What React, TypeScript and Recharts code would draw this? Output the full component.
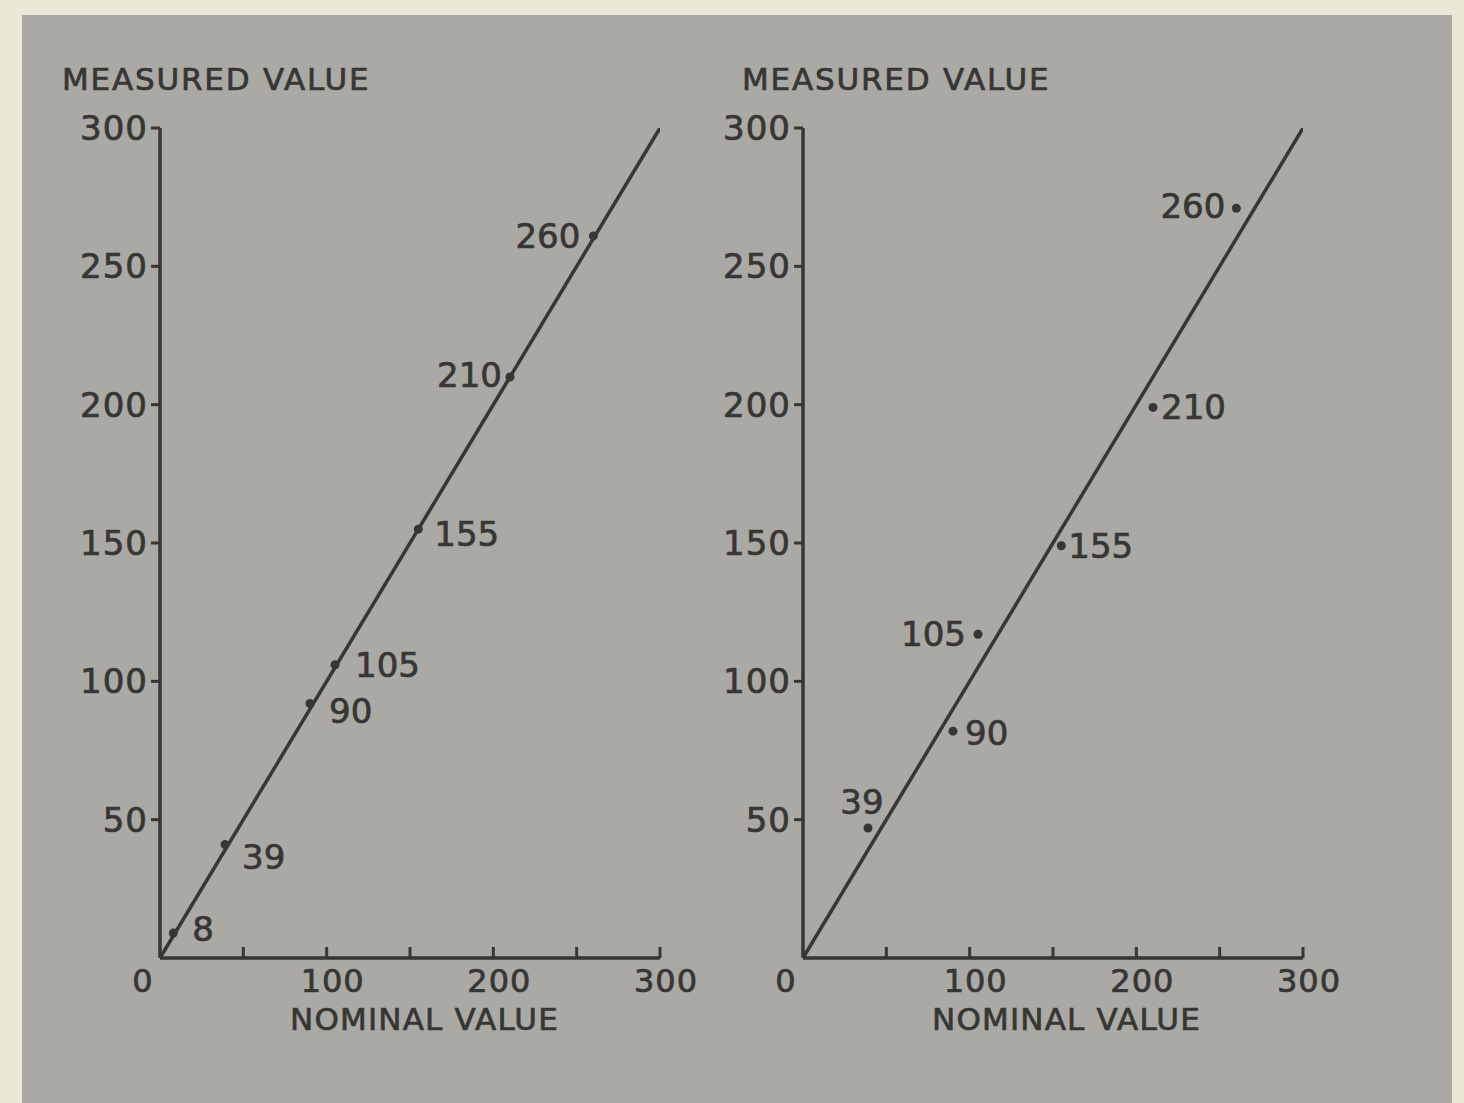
import React from 'react';
import { ScatterChart, Scatter, XAxis, YAxis, LabelList } from 'recharts';

// nominal values marked on both plots
const nominal = [8, 39, 90, 105, 155, 210, 260];
const measuredLeft = [9, 41, 92, 106, 155, 210, 261];
// right plot: six resistors, off the line
const nominalRight = [39, 90, 105, 155, 210, 260];
const measuredRight = [47, 82, 117, 149, 199, 271];

const idealX = [0, 300];
const xTicks = [0, 50, 100, 150, 200, 250, 300];
const yTicks = [50, 100, 150, 200, 250, 300];

const BG = '#aaa9a3';
const PAPER = '#ece8d7';
const INK = '#363634';
const FONT = '"DejaVu Sans", sans-serif';
const NUM_SIZE = 34;

// label offsets relative to each dot (dx, dy, anchor)
const leftLabelPos: [number, number, string][] = [
  [19, -4, 'start'],
  [17, 12, 'start'],
  [19, 8, 'start'],
  [20, 0, 'start'],
  [16, 5, 'start'],
  [-8, -2, 'end'],
  [-13, 0, 'end'],
];
const rightLabelPos: [number, number, string][] = [
  [-6, -26, 'middle'],
  [12, 2, 'start'],
  [-12, 0, 'end'],
  [7, 0, 'start'],
  [8, 0, 'start'],
  [-11, -2, 'end'],
];

const W = 720;
const H = 1103;
const margin = { top: 128, right: 60, left: 100, bottom: 85 };

const textInk = { fill: INK, stroke: INK, strokeWidth: 0.7 };

const XTick = (props: any) => {
  const { x, y, payload } = props;
  const v = payload.value;
  const showLabel = v % 100 === 0;
  return (
    <g>
      {v > 0 && <line x1={x} x2={x} y1={y} y2={y - 11} stroke={INK} strokeWidth={3} />}
      {showLabel && (
        <text
          x={v === 0 ? x - 17 : x + 6}
          y={y + 23}
          textAnchor="middle"
          dominantBaseline="central"
          fontSize={32}
          fontFamily={FONT}
          letterSpacing={1}
          {...textInk}
        >
          {v}
        </text>
      )}
    </g>
  );
};

const YTick = (props: any) => {
  const { x, y, payload } = props;
  return (
    <text
      x={x}
      y={y}
      textAnchor="end"
      dominantBaseline="central"
      fontSize={NUM_SIZE}
      fontFamily={FONT}
      letterSpacing={1}
      {...textInk}
    >
      {payload.value}
    </text>
  );
};

const makeLabel = (pos: [number, number, string][]) => (props: any) => {
  const { x, y, width, height, index, value } = props;
  const cx = x + (width || 0) / 2;
  const cy = y + (height || 0) / 2;
  const [dx, dy, anchor] = pos[index];
  return (
    <text
      x={cx + dx}
      y={cy + dy}
      textAnchor={anchor}
      dominantBaseline="central"
      fontSize={NUM_SIZE}
      fontFamily={FONT}
      {...textInk}
    >
      {value}
    </text>
  );
};

const Dot = (props: any) => {
  const { cx, cy } = props;
  return <circle cx={cx} cy={cy} r={4.5} fill={INK} />;
};

const NoShape = () => null;

interface PanelProps {
  xs: number[];
  ys: number[];
  labelPos: [number, number, string][];
  left: number;
}

const Panel: React.FC<PanelProps> = ({ xs, ys, labelPos, left }) => {
  const points = xs.map((x, i) => ({ x, y: ys[i], name: x }));
  const ideal = idealX.map((v) => ({ x: v, y: v }));
  return (
    <div style={{ position: 'absolute', left, top: 0, width: W, height: H }}>
      <ScatterChart width={W} height={H} margin={margin}>
        <XAxis
          type="number"
          dataKey="x"
          domain={[0, 300]}
          ticks={xTicks}
          interval={0}
          allowDataOverflow
          height={60}
          tickSize={0}
          tickMargin={0}
          tick={<XTick />}
          axisLine={{ stroke: INK, strokeWidth: 3.5 }}
        />
        <YAxis
          type="number"
          dataKey="y"
          domain={[0, 300]}
          ticks={yTicks}
          interval={0}
          allowDataOverflow
          width={60}
          tickSize={9}
          tickMargin={3}
          tickLine={{ stroke: INK, strokeWidth: 3 }}
          axisLine={{ stroke: INK, strokeWidth: 3.5 }}
          tick={<YTick />}
        />
        <Scatter
          data={ideal}
          line={{ stroke: INK, strokeWidth: 3.5 }}
          shape={<NoShape />}
          isAnimationActive={false}
        />
        <Scatter data={points} shape={<Dot />} isAnimationActive={false}>
          <LabelList dataKey="name" content={makeLabel(labelPos)} />
        </Scatter>
      </ScatterChart>
    </div>
  );
};

const titleStyle: React.CSSProperties = {
  position: 'absolute',
  fontFamily: FONT,
  fontSize: 31,
  color: INK,
  WebkitTextStroke: `0.7px ${INK}`,
  whiteSpace: 'nowrap',
  lineHeight: 1,
};

export default function App() {
  return (
    <div
      style={{
        position: 'absolute',
        left: 0,
        top: 0,
        width: 1464,
        height: 1103,
        background: PAPER,
        overflow: 'hidden',
      }}
    >
      <div
        style={{
          position: 'absolute',
          left: 22,
          top: 15,
          width: 1430,
          height: 1088,
          background: BG,
        }}
      />
      <div style={{ ...titleStyle, left: 62, top: 64, letterSpacing: 1.8 }}>MEASURED VALUE</div>
      <div style={{ ...titleStyle, left: 742, top: 64, letterSpacing: 1.8 }}>MEASURED VALUE</div>
      <div style={{ ...titleStyle, left: 290, top: 1004, letterSpacing: 1.2 }}>NOMINAL VALUE</div>
      <div style={{ ...titleStyle, left: 932, top: 1004, letterSpacing: 1.2 }}>NOMINAL VALUE</div>
      <Panel xs={nominal} ys={measuredLeft} labelPos={leftLabelPos} left={0} />
      <Panel xs={nominalRight} ys={measuredRight} labelPos={rightLabelPos} left={643} />
    </div>
  );
}
